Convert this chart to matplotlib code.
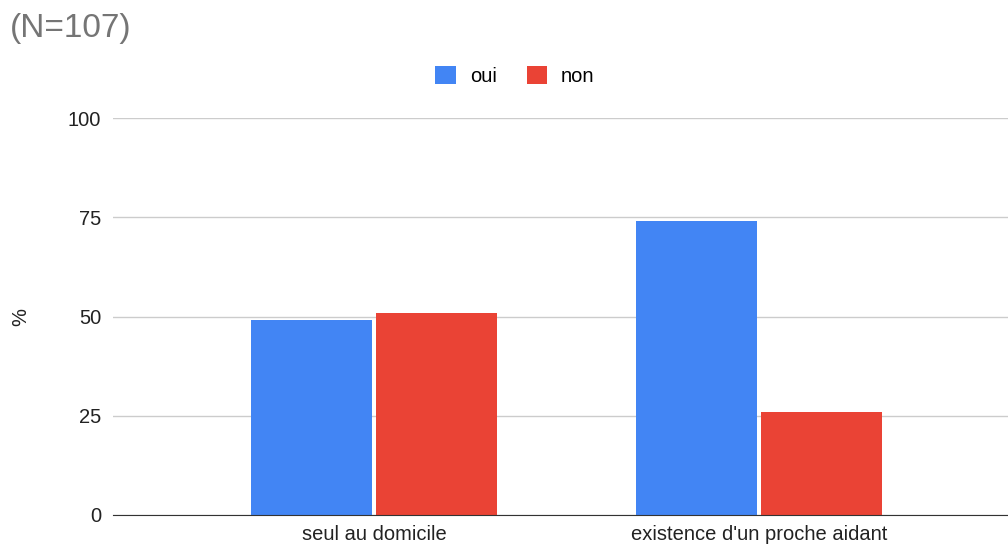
import matplotlib
matplotlib.use("Agg")
import matplotlib.pyplot as plt
import numpy as np

categories = ["seul au domicile", "existence d'un proche aidant"]
oui = [49, 74]
non = [51, 26]
series_names = ["oui", "non"]
y_ticks = [0, 25, 50, 75, 100]

plt.rcParams["font.family"] = ["Liberation Sans", "DejaVu Sans"]
fs = 14.5

fig = plt.figure(figsize=(10.08, 5.45), dpi=100)
ax = fig.add_axes([113 / 1008, 1 - 515 / 545, 1 - 113 / 1008, (515 - 118) / 545])

x = np.arange(len(categories))
w = 0.314
gap = 0.005
b1 = ax.bar(x - w / 2 - gap, oui, width=w, color="#4285F4", label=series_names[0], zorder=3)
b2 = ax.bar(x + w / 2 + gap, non, width=w, color="#EA4335", label=series_names[1], zorder=3)

ax.set_xlim(-0.678, 1.647)
ax.set_ylim(0, 100)
ax.set_yticks(y_ticks)
ax.set_xticks(x)
ax.set_xticklabels(categories, fontsize=fs, color="#222222")
ax.tick_params(axis="y", labelsize=fs, colors="#222222", length=0, pad=8.5)
ax.tick_params(axis="x", length=0, pad=7)
ax.grid(axis="y", color="#cccccc", linewidth=1, zorder=0)
for s in ["top", "right", "left"]:
    ax.spines[s].set_visible(False)
ax.spines["bottom"].set_color("#333333")
ax.spines["bottom"].set_zorder(4)
ax.set_ylabel("%", fontsize=fs, color="#222222", labelpad=27)

fig.text(10 / 1008, 1 - 29 / 545, "(N=107)", fontsize=24, color="#757575", va="center", ha="left")

fig.legend(handles=[b1, b2], labels=series_names, loc="center",
           bbox_to_anchor=(515 / 1008, 1 - 76 / 545), ncol=2, frameon=False,
           fontsize=fs, handlelength=1.0, handleheight=1.0, columnspacing=1.5,
           handletextpad=0.7)

fig.savefig("out.png", dpi=100)
